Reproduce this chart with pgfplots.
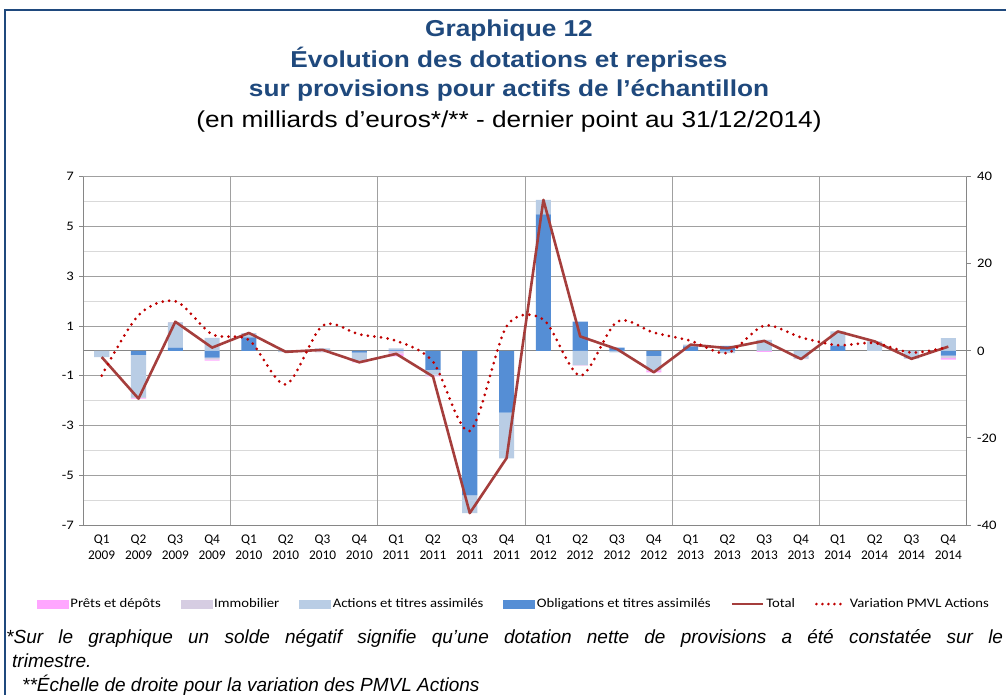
\documentclass[border=0pt]{standalone}
\usepackage{pgfplots}
\pgfplotsset{compat=1.18}
\usepackage{pgfplotstable}
\usepackage{fontspec}
\setmainfont{Liberation Sans}
\newfontfamily\calibri{Carlito}
\newfontfamily\calibriw[FakeStretch=1.13]{Carlito}
\newfontfamily\titlefont[FakeStretch=1.14]{Liberation Sans}

\definecolor{pretsc}{RGB}{255,166,255}
\definecolor{immoc}{RGB}{214,205,226}
\definecolor{actc}{RGB}{185,205,229}
\definecolor{oblc}{RGB}{85,142,213}
\definecolor{totalc}{RGB}{165,62,60}
\definecolor{dotc}{RGB}{192,0,0}
\definecolor{titlec}{RGB}{31,73,125}
\definecolor{majgrid}{RGB}{160,160,160}
\definecolor{mingrid}{RGB}{217,217,217}
\definecolor{axc}{RGB}{134,134,134}

% positive parts (stacked upward from 0): Obligations, Actions, Immobilier, Prets
\pgfplotstableread{
x O A I P
0 0 0 0 0
1 0 0 0 0
2 0.13 1.00 0.02 0.02
3 0 0.52 0 0
4 0.54 0.17 0 0
5 0 0 0 0
6 0.02 0.08 0 0
7 0 0 0 0
8 0.03 0.07 0 0
9 0 0 0 0
10 0 0 0 0
11 0 0 0 0
12 5.49 0.58 0 0
13 1.17 0 0 0
14 0.13 0 0 0
15 0 0 0 0
16 0.18 0.07 0 0
17 0.20 0 0 0
18 0 0.44 0 0
19 0 0 0 0
20 0.21 0.57 0 0
21 0 0.38 0 0
22 0 0 0 0
23 0 0.51 0 0
}\barspos

% negative parts (stacked downward from 0)
\pgfplotstableread{
x O A I P
0 0 -0.25 0 0
1 -0.16 -1.70 -0.03 -0.03
2 0 0 0 0
3 -0.27 0 -0.08 -0.04
4 0 0 0 0
5 0 -0.05 0 0
6 0 0 -0.06 0
7 -0.07 -0.29 -0.07 -0.03
8 0 0 -0.10 -0.12
9 -0.76 -0.20 -0.04 -0.03
10 -5.81 -0.71 0 0
11 -2.48 -1.84 0 0
12 0 0 0 0
13 0 -0.56 -0.02 -0.01
14 0 -0.06 0 0
15 -0.20 -0.56 -0.02 -0.08
16 0 0 0 0
17 0 -0.09 0 0
18 0 0 0 -0.04
19 0 -0.29 -0.04 0
20 0 0 0 0
21 0 0 0 0
22 0 -0.30 -0.02 0
23 -0.19 0 -0.10 -0.06
}\barsneg

% Total (left scale) and Variation PMVL Actions (right scale)
\pgfplotstableread{
x T V
0 -0.25 -5.7
1 -1.92 8.2
2 1.17 11.4
3 0.13 3.8
4 0.72 2.5
5 -0.04 -7.7
6 0.04 5.8
7 -0.46 3.8
8 -0.12 2.3
9 -1.03 -2.5
10 -6.52 -18.4
11 -4.31 5.6
12 6.07 7.2
13 0.58 -5.7
14 0.07 6.7
15 -0.86 4.2
16 0.25 2.3
17 0.11 -0.5
18 0.40 5.8
19 -0.33 3.1
20 0.78 1.3
21 0.38 1.8
22 -0.32 -0.4
23 0.17 0.9
}\lines

\pgfplotsset{
  base/.style={
    width=883.4pt, height=348.3pt, scale only axis,
    at={(83.3pt,-525pt)}, anchor=south west,
    xmin=-0.5, xmax=23.5, ymin=-7, ymax=7,
    clip=false,
  },
  barsax/.style={
    base, hide axis,
    ybar stacked, bar width=0.41, 
  },
}

\begin{document}
\begin{tikzpicture}
\useasboundingbox (0pt,0pt) rectangle (1006pt,-695pt);
\fill[white] (0pt,0pt) rectangle (1006pt,-695pt);
\draw[titlec, line width=2pt] (5pt,-696pt) -- (5pt,-10pt) -- (1007pt,-10pt);

% titles
\node[anchor=base, text=titlec, font=\titlefont\bfseries\fontsize{23}{27}\selectfont] at (509pt,-37pt) {Graphique 12};
\node[anchor=base, text=titlec, font=\titlefont\bfseries\fontsize{23}{27}\selectfont] at (509pt,-68pt) {Évolution des dotations et reprises};
\node[anchor=base, text=titlec, font=\titlefont\bfseries\fontsize{23}{27}\selectfont] at (509pt,-97pt) {sur provisions pour actifs de l’échantillon};
\node[anchor=base, font=\titlefont\fontsize{23}{27}\selectfont] at (509pt,-128pt) {(en milliards d’euros*/** - dernier point au 31/12/2014)};

% main axis: grids, left axis, x labels
\begin{axis}[base,
  axis x line*=bottom, axis y line*=left,
  axis line style={axc, line width=0.9pt},
  ytick={-7,-5,-3,-1,1,3,5,7},
  yticklabels={-7,-5,-3,-1,1,3,5,7},
  minor ytick={-6,-4,-2,0,2,4,6},
  ymajorgrids, yminorgrids,
  major grid style={majgrid, line width=0.9pt},
  minor grid style={mingrid, line width=0.9pt},
  extra y ticks={0}, extra y tick labels={},
  extra y tick style={grid=major, major tick length=0pt, major grid style={axc, line width=0.9pt}},
  minor tick length=0pt,
  ytick style={axc, line width=0.9pt},
  tick align=outside, major tick length=4pt,
  yticklabel style={font=\calibriw\fontsize{13}{15}\selectfont, xshift=-2pt},
  xtick={0,...,23},
  xtick style={draw=none},
  xticklabels={{Q1\\2009},{Q2\\2009},{Q3\\2009},{Q4\\2009},{Q1\\2010},{Q2\\2010},{Q3\\2010},{Q4\\2010},{Q1\\2011},{Q2\\2011},{Q3\\2011},{Q4\\2011},{Q1\\2012},{Q2\\2012},{Q3\\2012},{Q4\\2012},{Q1\\2013},{Q2\\2013},{Q3\\2013},{Q4\\2013},{Q1\\2014},{Q2\\2014},{Q3\\2014},{Q4\\2014}},
  xticklabel style={font=\calibri\fontsize{13.3}{16.5}\selectfont, align=center, yshift=-2pt},
  extra x ticks={3.5,7.5,11.5,15.5,19.5}, extra x tick labels={},
  extra x tick style={grid=major, major grid style={majgrid, line width=0.9pt}},
  clip=false,
]
\end{axis}

% positive stacks
\begin{axis}[barsax]
\addplot[fill=oblc, draw=none] table[x=x, y=O]{\barspos};
\addplot[fill=actc, draw=none] table[x=x, y=A]{\barspos};
\addplot[fill=immoc, draw=none] table[x=x, y=I]{\barspos};
\addplot[fill=pretsc, draw=none] table[x=x, y=P]{\barspos};
\end{axis}

% negative stacks
\begin{axis}[barsax]
\addplot[fill=oblc, draw=none] table[x=x, y=O]{\barsneg};
\addplot[fill=actc, draw=none] table[x=x, y=A]{\barsneg};
\addplot[fill=immoc, draw=none] table[x=x, y=I]{\barsneg};
\addplot[fill=pretsc, draw=none] table[x=x, y=P]{\barsneg};
\end{axis}

% Total line
\begin{axis}[base, hide axis]
\addplot[totalc, line width=2.6pt, line join=round, mark=none] table[x=x, y=T]{\lines};
\end{axis}

% right axis + PMVL + legend
\begin{axis}[base, ymin=-40, ymax=40,
  axis x line=none, axis y line*=right,
  axis line style={axc, line width=0.9pt},
  ytick={-40,-20,0,20,40}, yticklabels={-40,-20,0,20,40},
  ytick style={axc, line width=0.9pt},
  tick align=outside, major tick length=4pt,
  yticklabel style={font=\calibriw\fontsize{13}{15}\selectfont, xshift=3pt},
  legend columns=-1,
  legend style={at={(0.4875,-0.227)}, anchor=center, draw=none, fill=none,
    font=\calibriw\fontsize{13}{15}\selectfont,
    /tikz/every even column/.append style={column sep=18pt},
    nodes={inner sep=2pt}},
]
\addlegendimage{legend image code/.code={\fill[pretsc] (0pt,-4pt) rectangle (31pt,4pt);}}
\addlegendimage{legend image code/.code={\fill[immoc] (0pt,-4pt) rectangle (31pt,4pt);}}
\addlegendimage{legend image code/.code={\fill[actc] (0pt,-4pt) rectangle (31pt,4pt);}}
\addlegendimage{legend image code/.code={\fill[oblc] (0pt,-4pt) rectangle (31pt,4pt);}}
\addlegendimage{legend image code/.code={\draw[totalc, line width=2.6pt] (0pt,0pt) -- (31pt,0pt);}}
\addlegendimage{legend image code/.code={\draw[dotc, line width=2.9pt, line cap=round, dash pattern=on 0pt off 6pt] (1pt,0pt) -- (31pt,0pt);}}
\addplot[dotc, line width=3pt, line cap=round, dash pattern=on 0pt off 6.6pt, smooth, tension=0.5, mark=none, forget plot] table[x=x, y=V]{\lines};
\legend{Prêts et dépôts, Immobilier, Actions et titres assimilés, Obligations et titres assimilés, Total, Variation PMVL Actions}
\end{axis}

% footnotes
\node[anchor=base west, inner sep=0pt, font=\itshape\fontsize{19}{24}\selectfont] at (6pt,-643pt)
  {\makebox[997pt][s]{*Sur le graphique un solde négatif signifie qu’une dotation nette de provisions a été constatée sur le}};
\node[anchor=base west, inner sep=0pt, font=\itshape\fontsize{19}{24}\selectfont] at (12pt,-667pt) {trimestre.};
\node[anchor=base west, inner sep=0pt, font=\itshape\fontsize{19}{24}\selectfont] at (22pt,-691pt) {**Échelle de droite pour la variation des PMVL Actions};
\end{tikzpicture}
\end{document}
